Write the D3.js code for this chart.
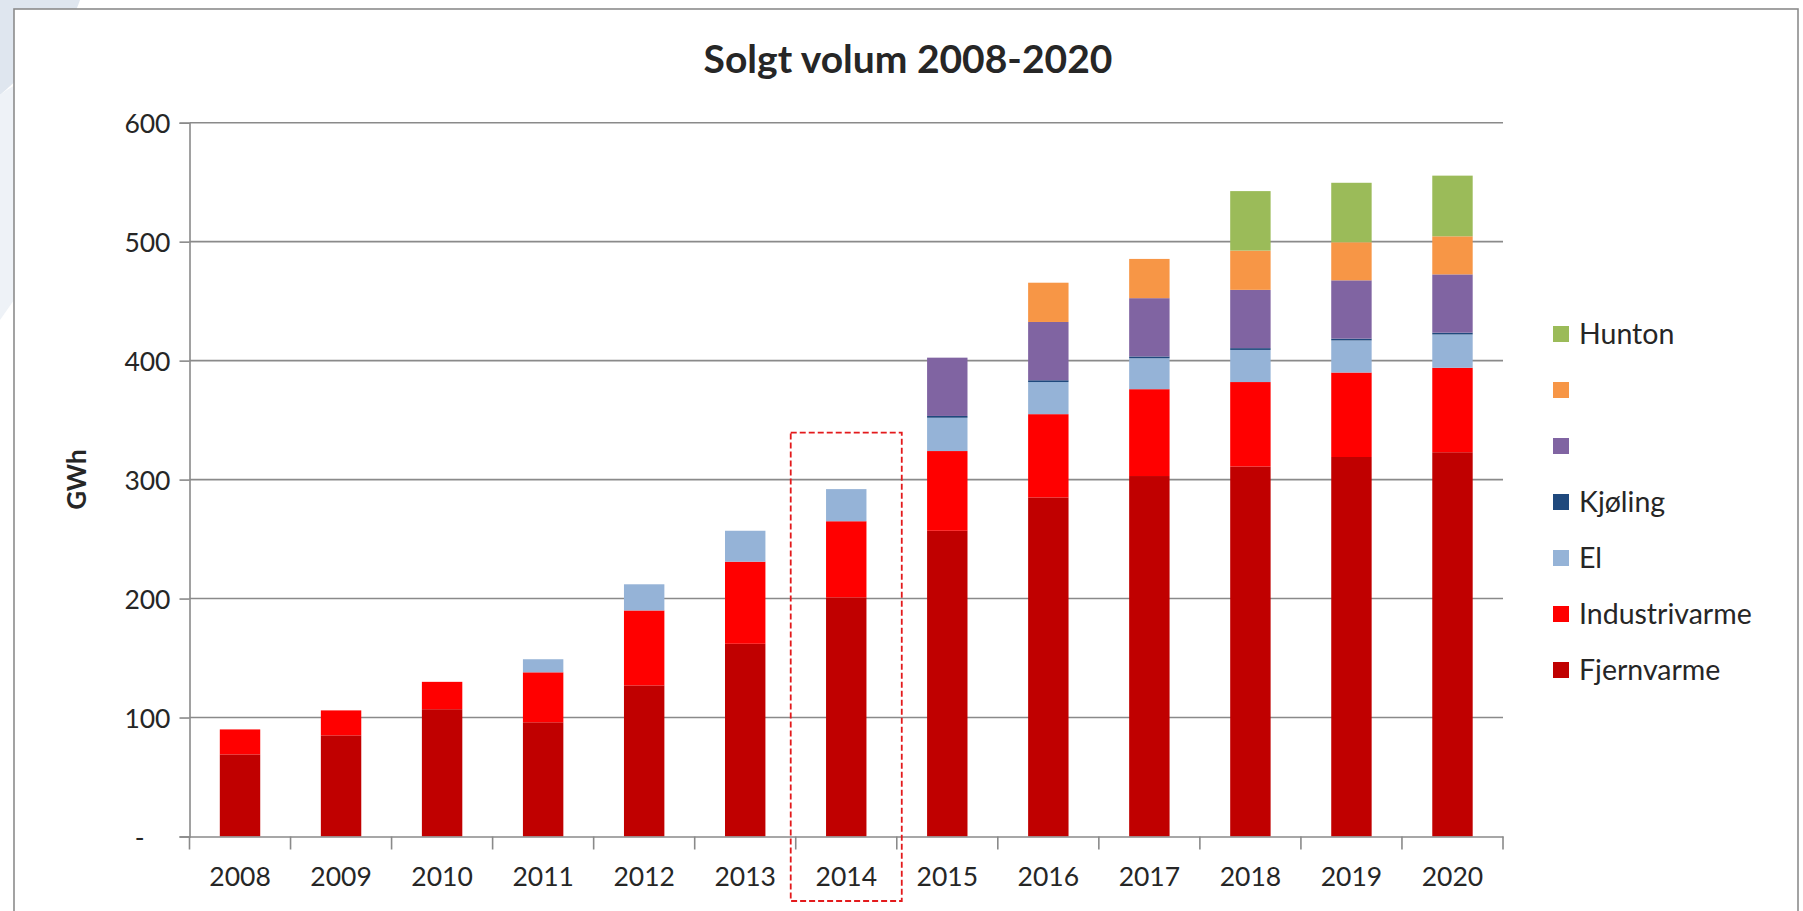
<!DOCTYPE html>
<html>
<head>
<meta charset="utf-8">
<script src="https://cdn.jsdelivr.net/npm/d3@7"></script>
<style>
  html, body { margin: 0; padding: 0; background: #ffffff; }
  svg { display: block; }
  text { font-family: Lato, "Open Sans", sans-serif; fill: #262626; }
</style>
</head>
<body>
<svg id="chart" width="1803" height="911"></svg>
<script>
// ---- data ----
const years = ["2008","2009","2010","2011","2012","2013","2014","2015","2016","2017","2018","2019","2020"];
const fjernvarme    = [69, 85, 107, 96, 127, 162, 201, 257, 285, 303, 311, 319, 323];
const industrivarme = [21, 21, 23, 42, 63, 69, 64, 67, 70, 73, 71, 71, 71];
const el            = [0, 0, 0, 11, 22, 26, 27, 28, 27, 26, 27, 27, 28];
const kjoling       = [0, 0, 0, 0, 0, 0, 0, 1.5, 1.5, 1.5, 1.5, 1.5, 1.5];
const serieLilla    = [0, 0, 0, 0, 0, 0, 0, 49, 49, 49, 49, 49, 49];
const serieOransje  = [0, 0, 0, 0, 0, 0, 0, 0, 33, 33, 33, 32, 32];
const hunton        = [0, 0, 0, 0, 0, 0, 0, 0, 0, 0, 50, 50, 51];
const yTicks = [0, 100, 200, 300, 400, 500, 600];
const yTickLabels = ["-", "100", "200", "300", "400", "500", "600"];
const seriesNames = ["Fjernvarme", "Industrivarme", "El", "Kjøling", "", "", "Hunton"];
const seriesKeys = ["fjern", "industri", "el", "kjol", "lilla", "oransje", "hunton"];
const seriesColors = ["#C00000", "#FF0000", "#95B3D7", "#1F497D", "#8064A2", "#F79646", "#9BBB59"];
const chartTitle = "Solgt volum 2008-2020";
const yTitle = "GWh";
const highlightYear = "2014";

const seriesValues = [fjernvarme, industrivarme, el, kjoling, serieLilla, serieOransje, hunton];
const table = years.map((yr, i) => {
  const row = { year: yr };
  seriesKeys.forEach((k, j) => row[k] = seriesValues[j][i]);
  return row;
});

const svg = d3.select("#chart");

// background decoration (top-left) and frame
svg.append("path")
  .attr("d", "M0,0 L80,0 C70,30 40,60 0,95 Z")
  .attr("fill", "#dfe6ef");
svg.append("path")
  .attr("d", "M0,95 C20,80 40,70 14,120 L14,300 L0,320 Z")
  .attr("fill", "#eef2f7");
svg.append("rect")
  .attr("x", 14).attr("y", 9)
  .attr("width", 1784).attr("height", 940)
  .attr("fill", "#ffffff")
  .attr("stroke", "#8c8c8c").attr("stroke-width", 1.6);

const pLeft = 189.5, pRight = 1503, pTop = 122.7, pBottom = 836.5;

const x = d3.scaleBand().domain(years).range([pLeft, pRight])
  .paddingInner(0.6).paddingOuter(0.3);
const xOuter = d3.scaleBand().domain(years).range([pLeft, pRight]).padding(0);
const y = d3.scaleLinear().domain([0, 600]).range([pBottom, pTop]);

// gridlines
svg.append("g").selectAll("line").data(yTicks.filter(d => d > 0)).join("line")
  .attr("x1", pLeft).attr("x2", pRight)
  .attr("y1", d => y(d)).attr("y2", d => y(d))
  .attr("stroke", "#8a8a8a").attr("stroke-width", 1.6);

// stacked bars
const stack = d3.stack().keys(seriesKeys);
const stacked = stack(table);
const color = d3.scaleOrdinal().domain(seriesKeys).range(seriesColors);

svg.append("g").selectAll("g").data(stacked).join("g")
  .attr("fill", d => color(d.key))
  .selectAll("rect").data(d => d.filter(s => s[1] - s[0] > 0)).join("rect")
  .attr("x", d => x(d.data.year))
  .attr("width", x.bandwidth())
  .attr("y", d => y(d[1]))
  .attr("height", d => y(d[0]) - y(d[1]));

// y axis
const yAxis = d3.axisLeft(y).tickValues(yTicks)
  .tickFormat((d, i) => yTickLabels[i]).tickSizeOuter(0).tickSize(10).tickPadding(9);
const gy = svg.append("g").attr("transform", `translate(${pLeft},0)`).call(yAxis);
gy.select(".domain").attr("stroke", "#8a8a8a").attr("stroke-width", 1.6);
gy.selectAll(".tick line").attr("stroke", "#8a8a8a").attr("stroke-width", 1.6);
gy.selectAll(".tick text")
  .style("font-family", "Lato, sans-serif").style("font-size", "26.5px")
  .attr("fill", "#262626").attr("dy", "0.36em")
  .attr("dx", (d, i) => i === 0 ? -26 : 0);

// x axis
const xAxis = d3.axisBottom(xOuter).tickSize(0).tickPadding(0).tickSizeOuter(0);
const gx = svg.append("g").attr("transform", `translate(0,${pBottom})`).call(xAxis);
gx.select(".domain").attr("stroke", "#8a8a8a").attr("stroke-width", 1.6);
gx.selectAll(".tick text")
  .style("font-family", "Lato, sans-serif").style("font-size", "26.5px")
  .attr("fill", "#262626").attr("y", 49.5).attr("dy", 0);
// category boundary ticks
const boundaries = years.map(d => xOuter(d)).concat([pRight]);
gx.append("g").selectAll("line").data(boundaries).join("line")
  .attr("x1", d => d).attr("x2", d => d)
  .attr("y1", 0).attr("y2", 13)
  .attr("stroke", "#8a8a8a").attr("stroke-width", 1.6);

// highlight box around 2014
svg.append("rect")
  .attr("x", xOuter(highlightYear) - 5)
  .attr("y", 432.7)
  .attr("width", xOuter.bandwidth() + 10)
  .attr("height", 901 - 432.7)
  .attr("fill", "none")
  .attr("stroke", "#e31a1c").attr("stroke-width", 1.8)
  .attr("stroke-dasharray", "6,3");

// title
svg.append("text")
  .attr("x", 908).attr("y", 73)
  .attr("text-anchor", "middle")
  .style("font-family", "Lato, sans-serif")
  .style("font-size", "39px").style("font-weight", "bold")
  .attr("fill", "#000")
  .text(chartTitle);

// y title
svg.append("text")
  .attr("transform", `translate(86,${(pTop + pBottom) / 2}) rotate(-90)`)
  .attr("text-anchor", "middle")
  .style("font-family", "Lato, sans-serif")
  .style("font-size", "26px").style("font-weight", "bold")
  .attr("fill", "#000")
  .text(yTitle);

// legend (top: Hunton ... bottom: Fjernvarme)
const legendOrder = seriesKeys.map((k, i) => ({ key: k, name: seriesNames[i], color: seriesColors[i] })).reverse();
const legendY = d3.scalePoint().domain(legendOrder.map(d => d.key)).range([334, 670]);
const lg = svg.append("g").selectAll("g").data(legendOrder).join("g")
  .attr("transform", d => `translate(1553,${legendY(d.key)})`);
lg.append("rect").attr("x", 0).attr("y", -8).attr("width", 16).attr("height", 16)
  .attr("fill", d => d.color);
lg.append("text").attr("x", 26).attr("y", 0).attr("dy", "0.36em")
  .style("font-family", "Lato, sans-serif").style("font-size", "28.5px")
  .attr("fill", "#262626")
  .text(d => d.name);
</script>
</body>
</html>
